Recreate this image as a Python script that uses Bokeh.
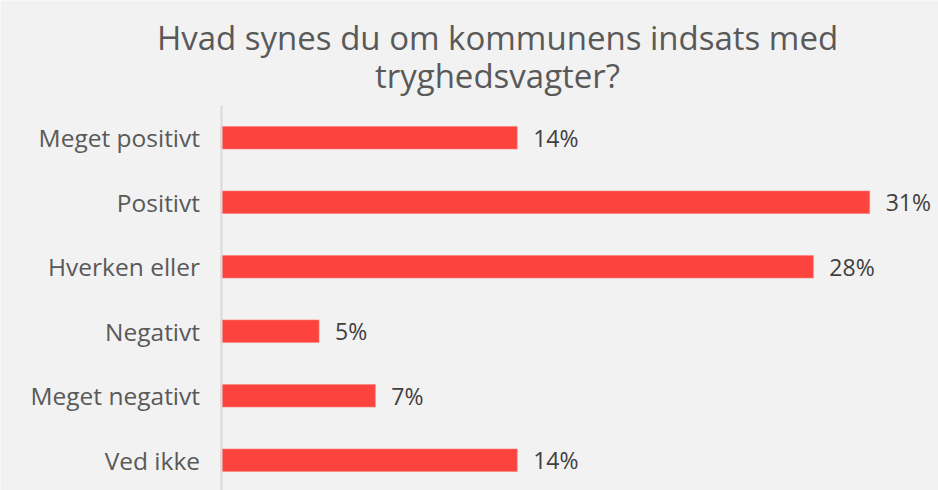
from bokeh.plotting import figure
from bokeh.models import Range1d, ColumnDataSource, LabelSet, Label
from bokeh.core.properties import value
from bokeh.embed import file_html
from bokeh.resources import INLINE

title_lines = ["Hvad synes du om kommunens indsats med", "tryghedsvagter?"]
categories = ["Meget positivt", "Positivt", "Hverken eller", "Negativt", "Meget negativt", "Ved ikke"]
values = [14.2, 31.1, 28.4, 4.7, 7.4, 14.2]          # bar lengths (%)
value_labels = ["14%", "31%", "28%", "5%", "7%", "14%"]

positions = list(range(len(categories)))
source = ColumnDataSource(dict(y=positions, v=values, t=value_labels))

BG = "#F2F2F2"
FONT = "Open Sans"

p = figure(width=938, height=490, output_backend="svg", toolbar_location=None,
           x_range=Range1d(-10.574, 34.40), y_range=Range1d(5.469, -2.128),
           x_axis_location=None,
           min_border_left=0, min_border_right=0, min_border_top=0, min_border_bottom=0)
p.background_fill_color = BG
p.border_fill_color = BG
p.outline_line_color = None
p.xgrid.visible = False
p.ygrid.visible = False

p.hbar(y="y", right="v", left=0, height=0.35, source=source,
       fill_color="#FD433D", line_color="#FB7F7B", line_width=0.6)

ax = p.yaxis[0]
ax.fixed_location = 0
ax.bounds = (-0.5, 5.469)
ax.ticker = positions
ax.major_label_overrides = {i: c for i, c in zip(positions, categories)}
ax.axis_line_color = "#D9D9D9"
ax.axis_line_width = 2
ax.major_tick_line_color = None
ax.minor_tick_line_color = None
ax.major_tick_out = 0
ax.major_tick_in = 0
ax.major_label_standoff = 21
ax.major_label_text_font = FONT
ax.major_label_text_font_size = "24.5px"
ax.major_label_text_color = "#595959"

labels = LabelSet(x="v", y="y", text="t", source=source, x_offset=16,
                  text_baseline="middle", text_align="left",
                  text_font=value(FONT), text_font_size="23px", text_color="#404040")
p.add_layout(labels)

# title lines (screen units, relative to the plot frame)
for line, yy in zip(title_lines, [453, 415]):
    p.add_layout(Label(x=497, y=yy, x_units="screen", y_units="screen", text=line,
                       text_align="center", text_baseline="alphabetic",
                       text_font=FONT, text_font_size="33px", text_color="#595959"))

open("out.html", "w").write(file_html(p, INLINE))
